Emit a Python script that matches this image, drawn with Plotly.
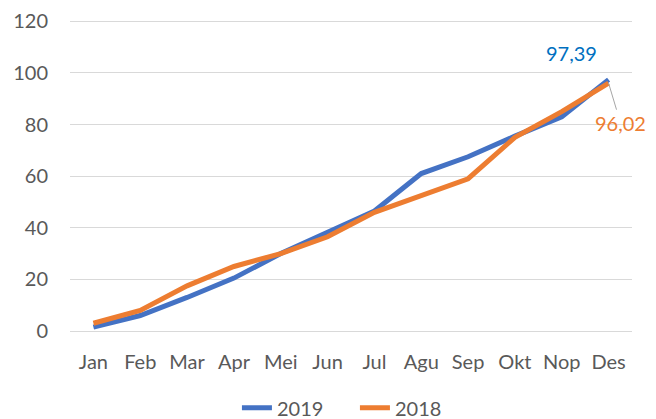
import plotly.graph_objects as go

months = ["Jan", "Feb", "Mar", "Apr", "Mei", "Jun", "Jul", "Agu", "Sep", "Okt", "Nop", "Des"]
y2019 = [1.5, 6, 13, 20.5, 30, 38, 46.5, 61, 67.5, 75.5, 83, 97.39]
y2018 = [3, 8, 17.5, 25, 30, 36.5, 46, 52.5, 59, 75, 85, 96.02]
yticks = [0, 20, 40, 60, 80, 100, 120]

BLUE = "#4472C4"
ORANGE = "#ED7D31"
FONT = "Lato"
GRAY = "#595959"
FS = 20

fig = go.Figure()
fig.add_trace(go.Scatter(x=months, y=y2019, mode="lines", name="2019",
                         line=dict(color=BLUE, width=5), cliponaxis=False))
fig.add_trace(go.Scatter(x=months, y=y2018, mode="lines", name="2018",
                         line=dict(color=ORANGE, width=5), cliponaxis=False))

fig.add_annotation(x=months[-1], y=y2019[-1], text=f"{y2019[-1]:.2f}".replace(".", ","),
                   showarrow=False, xshift=-37, yshift=27,
                   font=dict(family=FONT, size=FS, color="#0070C0"))
fig.add_annotation(x=months[-1], y=y2018[-1], text=f"{y2018[-1]:.2f}".replace(".", ","),
                   showarrow=True, arrowhead=0, arrowwidth=1, arrowcolor="#A6A6A6",
                   ax=12, ay=40, standoff=0,
                   font=dict(family=FONT, size=FS, color=ORANGE))

fig.update_layout(
    width=656, height=419,
    margin=dict(l=62, r=32, t=12, b=96, autoexpand=False),
    plot_bgcolor="white", paper_bgcolor="white",
    font=dict(family=FONT, size=FS, color=GRAY),
    showlegend=True,
    legend=dict(orientation="h", x=0.507, xanchor="center",
                y=-0.247, yanchor="middle", entrywidth=73,
                font=dict(family=FONT, size=FS, color=GRAY)),
)
fig.update_xaxes(range=[-0.5, len(months) - 0.5], showgrid=False, showline=False,
                 ticks="", ticklabelstandoff=17, automargin=False,
                 tickfont=dict(family=FONT, size=FS, color=GRAY))
fig.update_yaxes(range=[0, 120.5], tickvals=yticks, showgrid=True, gridcolor="#D9D9D9",
                 gridwidth=1, zeroline=True, zerolinecolor="#D9D9D9", zerolinewidth=1,
                 showline=False, ticks="", ticklabelstandoff=21, automargin=False,
                 ticklabeloverflow="allow",
                 tickfont=dict(family=FONT, size=FS, color=GRAY))

fig.write_html("out.html")
